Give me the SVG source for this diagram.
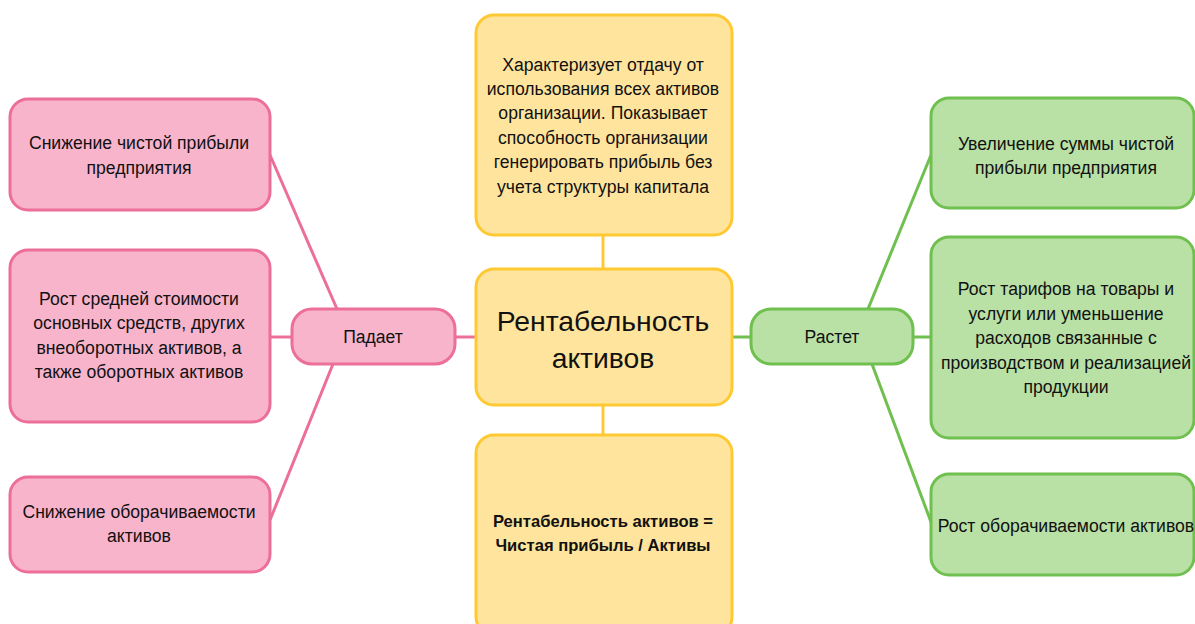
<svg xmlns="http://www.w3.org/2000/svg" width="1195" height="624" viewBox="0 0 1195 624">
<style>
text{font-family:"Liberation Sans",Arial,sans-serif;fill:#111;text-anchor:middle}
.t{font-size:17.6px}
.big{font-size:28.3px}
.b{font-size:16.6px;font-weight:bold}
.pink{fill:#F8B4CB;stroke:#EC6F98;stroke-width:3}
.yel{fill:#FFE49D;stroke:#FFC933;stroke-width:3}
.grn{fill:#B9E0A5;stroke:#6FC04F;stroke-width:3}
.lp{stroke:#EC6F98;stroke-width:3;fill:none}
.ly{stroke:#FFC933;stroke-width:3;fill:none}
.lg{stroke:#6FC04F;stroke-width:3;fill:none}
</style>
<rect width="1195" height="624" fill="#fff"/>
<g id="connectors">
<line class="lp" x1="270" y1="155" x2="337" y2="309"/>
<line class="lp" x1="270" y1="337" x2="292" y2="337"/>
<line class="lp" x1="333" y1="364" x2="270" y2="520"/>
<line class="lp" x1="455" y1="337" x2="476" y2="337"/>
<line class="ly" x1="603" y1="235" x2="603" y2="269"/>
<line class="ly" x1="603" y1="405" x2="603" y2="435"/>
<line class="lg" x1="732" y1="337" x2="751" y2="337"/>
<line class="lg" x1="868" y1="309" x2="931" y2="155"/>
<line class="lg" x1="913" y1="337" x2="931" y2="337"/>
<line class="lg" x1="872" y1="364" x2="931" y2="522"/>
</g>
<g id="l1"><rect class="pink" x="10" y="99" width="260" height="111" rx="18"/>
<text class="t" x="139" y="149">Снижение чистой прибыли</text><text class="t" x="139" y="174">предприятия</text></g>
<g id="l2"><rect class="pink" x="10" y="250" width="260" height="172" rx="18"/>
<text class="t" x="139" y="305">Рост средней стоимости</text><text class="t" x="139" y="329">основных средств, других</text><text class="t" x="139" y="354">внеоборотных активов, а</text><text class="t" x="139" y="378">также оборотных активов</text></g>
<g id="l3"><rect class="pink" x="10" y="477" width="260" height="95" rx="18"/>
<text class="t" x="139" y="518">Снижение оборачиваемости</text><text class="t" x="139" y="542">активов</text></g>
<g id="padaet"><rect class="pink" x="292" y="309" width="163" height="55" rx="20"/>
<text class="t" x="373" y="343">Падает</text></g>
<g id="top"><rect class="yel" x="476" y="15" width="256" height="220" rx="18"/>
<text class="t" x="603" y="71">Характеризует отдачу от</text><text class="t" x="603" y="95">использования всех активов</text><text class="t" x="603" y="119">организации. Показывает</text><text class="t" x="603" y="144">способность организации</text><text class="t" x="603" y="168">генерировать прибыль без</text><text class="t" x="603" y="193">учета структуры капитала</text></g>
<g id="main"><rect class="yel" x="476" y="269" width="256" height="136" rx="18"/>
<text class="big" x="603" y="331">Рентабельность</text><text class="big" x="603" y="368">активов</text></g>
<g id="formula"><rect class="yel" x="476" y="435" width="256" height="200" rx="18"/>
<text class="b" x="603" y="527">Рентабельность активов =</text><text class="b" x="603" y="551">Чистая прибыль / Активы</text></g>
<g id="rastet"><rect class="grn" x="751" y="309" width="162" height="55" rx="20"/>
<text class="t" x="832" y="343">Растет</text></g>
<g id="r1"><rect class="grn" x="931" y="98" width="263" height="110" rx="18"/>
<text class="t" x="1066" y="150">Увеличение суммы чистой</text><text class="t" x="1066" y="174">прибыли предприятия</text></g>
<g id="r2"><rect class="grn" x="931" y="237" width="263" height="201" rx="18"/>
<text class="t" x="1066" y="295">Рост тарифов на товары и</text><text class="t" x="1066" y="320">услуги или уменьшение</text><text class="t" x="1066" y="344">расходов связанные с</text><text class="t" x="1066" y="369">производством и реализацией</text><text class="t" x="1066" y="393">продукции</text></g>
<g id="r3"><rect class="grn" x="931" y="474" width="263" height="101" rx="18"/>
<text class="t" x="1066" y="532">Рост оборачиваемости активов</text></g>
</svg>
